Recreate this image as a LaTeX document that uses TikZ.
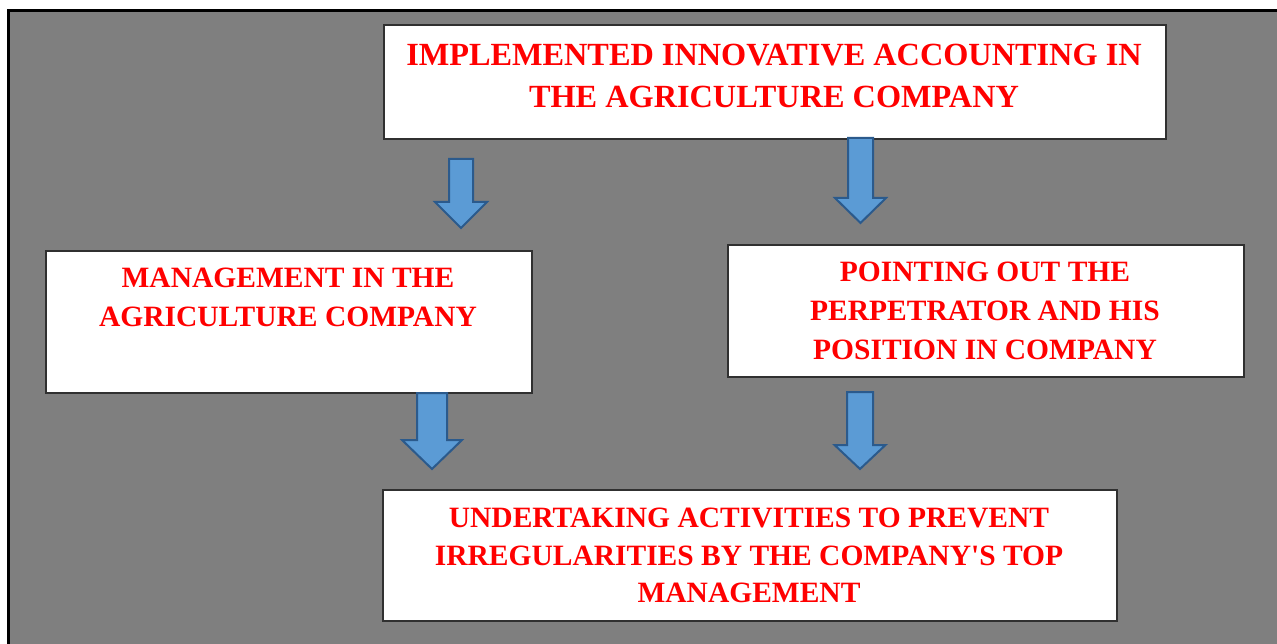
\documentclass[tikz,border=0pt]{standalone}
\usepackage{fontspec}
\setmainfont{Liberation Serif}[Ligatures=TeXOff]
\definecolor{bggray}{HTML}{7F7F7F}
\definecolor{arrfill}{HTML}{5B9BD5}
\definecolor{arrline}{HTML}{2B5A8C}
\definecolor{boxline}{HTML}{303030}
\tikzset{
  box/.style={draw=boxline, line width=1.6pt, fill=white, inner sep=0pt, anchor=north west},
  lbl/.style={text=red, font=\fontsize{29.5}{39}\selectfont\bfseries, align=center, inner sep=0pt},
  blockarrow/.style={draw=arrline, fill=arrfill, line width=2pt, line join=miter}
}
% \barrow{name}{cx}{top}{headstart}{tip}{half shaft}{half head}
\newcommand{\barrow}[7]{%
  \coordinate (#1) at (#2,#3);
  \draw[blockarrow] ($(#1)+(-#6,0)$) -- ($(#1)+(#6,0)$) -- ($(#1)+(#6,#4-#3)$) -- ($(#1)+(#7,#4-#3)$)
    -- ($(#1)+(0,#5-#3)$) -- ($(#1)+(-#7,#4-#3)$) -- ($(#1)+(-#6,#4-#3)$) -- cycle;}
\usetikzlibrary{calc}
\begin{document}
\begin{tikzpicture}[x=1pt,y=-1pt]
\useasboundingbox (0,0) rectangle (1277,644);
\fill[white] (0,0) rectangle (1277,644);
\fill[bggray] (8.5,10.5) rectangle (1277,644);
\draw[black, line width=3pt] (8.5,644) -- (8.5,10.5) -- (1277,10.5);

\node[box, minimum width=782, minimum height=114] (topbox) at (383,24) {};
\node[lbl, font=\fontsize{32.3}{42}\selectfont\bfseries] (toptext) at (774,76) {IMPLEMENTED INNOVATIVE ACCOUNTING IN\\THE AGRICULTURE COMPANY};

\node[box, minimum width=486, minimum height=142] (leftbox) at (45,250) {};
\node[lbl] (lefttext) at (288,297.5) {MANAGEMENT IN THE\\AGRICULTURE COMPANY};

\node[box, minimum width=516, minimum height=132] (rightbox) at (727,244) {};
\node[lbl] (righttext) at (985,311) {POINTING OUT THE\\PERPETRATOR AND HIS\\POSITION IN COMPANY};

\node[box, minimum width=734, minimum height=131] (botbox) at (382,489) {};
\node[lbl, font=\fontsize{29.5}{37.5}\selectfont\bfseries] (bottext) at (749,555.5) {UNDERTAKING ACTIVITIES TO PREVENT\\IRREGULARITIES BY THE COMPANY'S TOP\\MANAGEMENT};

\barrow{a1}{461}{159}{202}{228}{12}{26}
\barrow{a2}{860.5}{138}{198}{223}{12.5}{25.5}
\barrow{a3}{432}{393}{440}{469}{15}{30}
\barrow{a4}{860}{392}{445}{469}{13}{25.5}
\end{tikzpicture}
\end{document}
